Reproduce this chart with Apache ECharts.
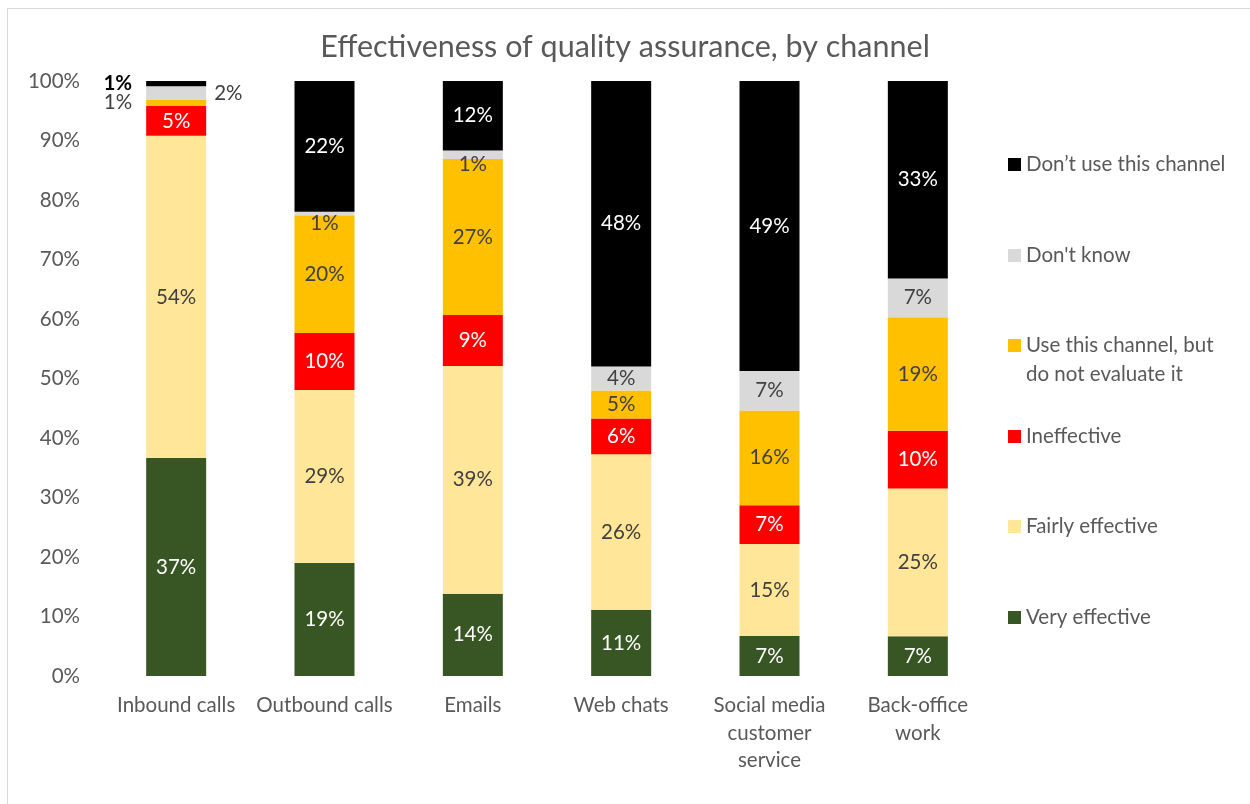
<!DOCTYPE html>
<html>
<head>
<meta charset="utf-8">
<script src="https://cdn.jsdelivr.net/npm/echarts@6/dist/echarts.min.js"></script>
<style>
  html, body { margin: 0; padding: 0; background: #fff; }
  #chart { width: 1250px; height: 804px; }
</style>
</head>
<body>
<div id="chart"></div>
<script>
// 数据 (raw survey shares, %; each column is shown as a 100% stack)
const channels = ['Inbound calls', 'Outbound calls', 'Emails', 'Web chats', 'Social media\ncustomer\nservice', 'Back-office\nwork']
const veryEffective = [36.6, 19.0, 14.2, 11.1, 6.7, 6.7]
const fairlyEffective = [54.1, 29.1, 39.3, 26.1, 15.4, 24.8]
const ineffective = [5.0, 9.6, 8.8, 6.0, 6.5, 9.7]
const useNotEvaluate = [1.1, 19.8, 26.9, 4.7, 15.9, 19.1]
const dontKnow = [2.2, 0.6, 1.45, 4.0, 6.6, 6.5]
const dontUse = [0.9, 22.0, 12.0, 47.9, 48.6, 33.2]
const yTicks = [0, 10, 20, 30, 40, 50, 60, 70, 80, 90, 100]

const seriesDefs = [
  { name: 'Very effective', data: veryEffective, color: '#375623', label: '#ffffff' },
  { name: 'Fairly effective', data: fairlyEffective, color: '#FFE699', label: '#404040' },
  { name: 'Ineffective', data: ineffective, color: '#FF0000', label: '#ffffff' },
  { name: 'Use this channel, but do not evaluate it', data: useNotEvaluate, color: '#FFC000', label: '#404040' },
  { name: "Don't know", data: dontKnow, color: '#D9D9D9', label: '#404040' },
  { name: 'Don\u2019t use this channel', data: dontUse, color: '#000000', label: '#ffffff' }
]

// column totals, used to turn raw shares into a 100% stack
const totals = channels.map((c, i) => seriesDefs.reduce((s, d) => s + d.data[i], 0))

// hand-moved labels for the thin slices
const labelTweaks = {
  'Don\u2019t use this channel': { 0: { position: 'left', distance: 14, color: '#000000', fontWeight: 'bold' } },
  "Don't know": {
    0: { position: 'right', distance: 8 },
    1: { offset: [0, 10] },
    2: { offset: [0, 10] }
  },
  'Use this channel, but do not evaluate it': { 0: { position: 'left', distance: 14 } }
}

const font = 'Lato, "Open Sans", sans-serif'
const fs = 20.5

const series = seriesDefs.map(d => ({
  name: d.name,
  type: 'bar',
  stack: 'total',
  barWidth: 60,
  itemStyle: { color: d.color },
  label: {
    show: true,
    position: 'inside',
    color: d.label,
    fontSize: fs,
    fontFamily: font,
    formatter: p => Math.round(p.data.raw) + '%'
  },
  data: d.data.map((v, i) => {
    const item = { value: v / totals[i] * 100, raw: v }
    const tw = labelTweaks[d.name] && labelTweaks[d.name][i]
    if (tw) item.label = tw
    return item
  })
}))

// legend entries, one block each so the spacing follows the picture
const legendTops = [145, 236, 297, 417, 507, 598]
const legendOrder = seriesDefs.slice().reverse()
const legends = legendOrder.map((d, k) => ({
  data: [d.name],
  orient: 'vertical',
  left: 1003,
  top: legendTops[k],
  icon: 'rect',
  itemWidth: 13,
  itemHeight: 13,
  itemGap: 0,
  selectedMode: false,
  // blank first line keeps the swatch level with "Use this channel, but"
  formatter: n => n === 'Use this channel, but do not evaluate it' ? '\nUse this channel, but\ndo not evaluate it' : n,
  textStyle: { color: '#595959', fontSize: fs, fontFamily: font, lineHeight: 29 }
}))

const myChart = echarts.init(document.getElementById('chart'))
const option = {
  animation: false,
  backgroundColor: '#ffffff',
  title: {
    text: 'Effectiveness of quality assurance, by channel',
    left: 'center',
    top: 27,
    textStyle: { color: '#595959', fontSize: 30.5, fontWeight: 'normal', fontFamily: font }
  },
  legend: legends,
  grid: { left: 102, right: 258, top: 81, bottom: 128, containLabel: false },
  xAxis: {
    type: 'category',
    data: channels,
    axisLine: { show: false },
    axisTick: { show: false },
    axisLabel: {
      interval: 0,
      margin: 16,
      color: '#595959',
      fontSize: fs,
      lineHeight: 27.5,
      fontFamily: font
    }
  },
  yAxis: {
    type: 'value',
    min: yTicks[0],
    max: yTicks[yTicks.length - 1],
    interval: yTicks[1] - yTicks[0],
    axisLine: { show: false },
    axisTick: { show: false },
    splitLine: { show: false },
    axisLabel: {
      margin: 22,
      color: '#595959',
      fontSize: fs,
      fontFamily: font,
      formatter: '{value}%'
    }
  },
  graphic: [{
    type: 'rect',
    shape: { x: 7.5, y: 8.5, width: 1260, height: 820 },
    style: { fill: 'none', stroke: '#D9D9D9', lineWidth: 1 },
    silent: true
  }],
  series: series
}
myChart.setOption(option)
</script>
</body>
</html>
